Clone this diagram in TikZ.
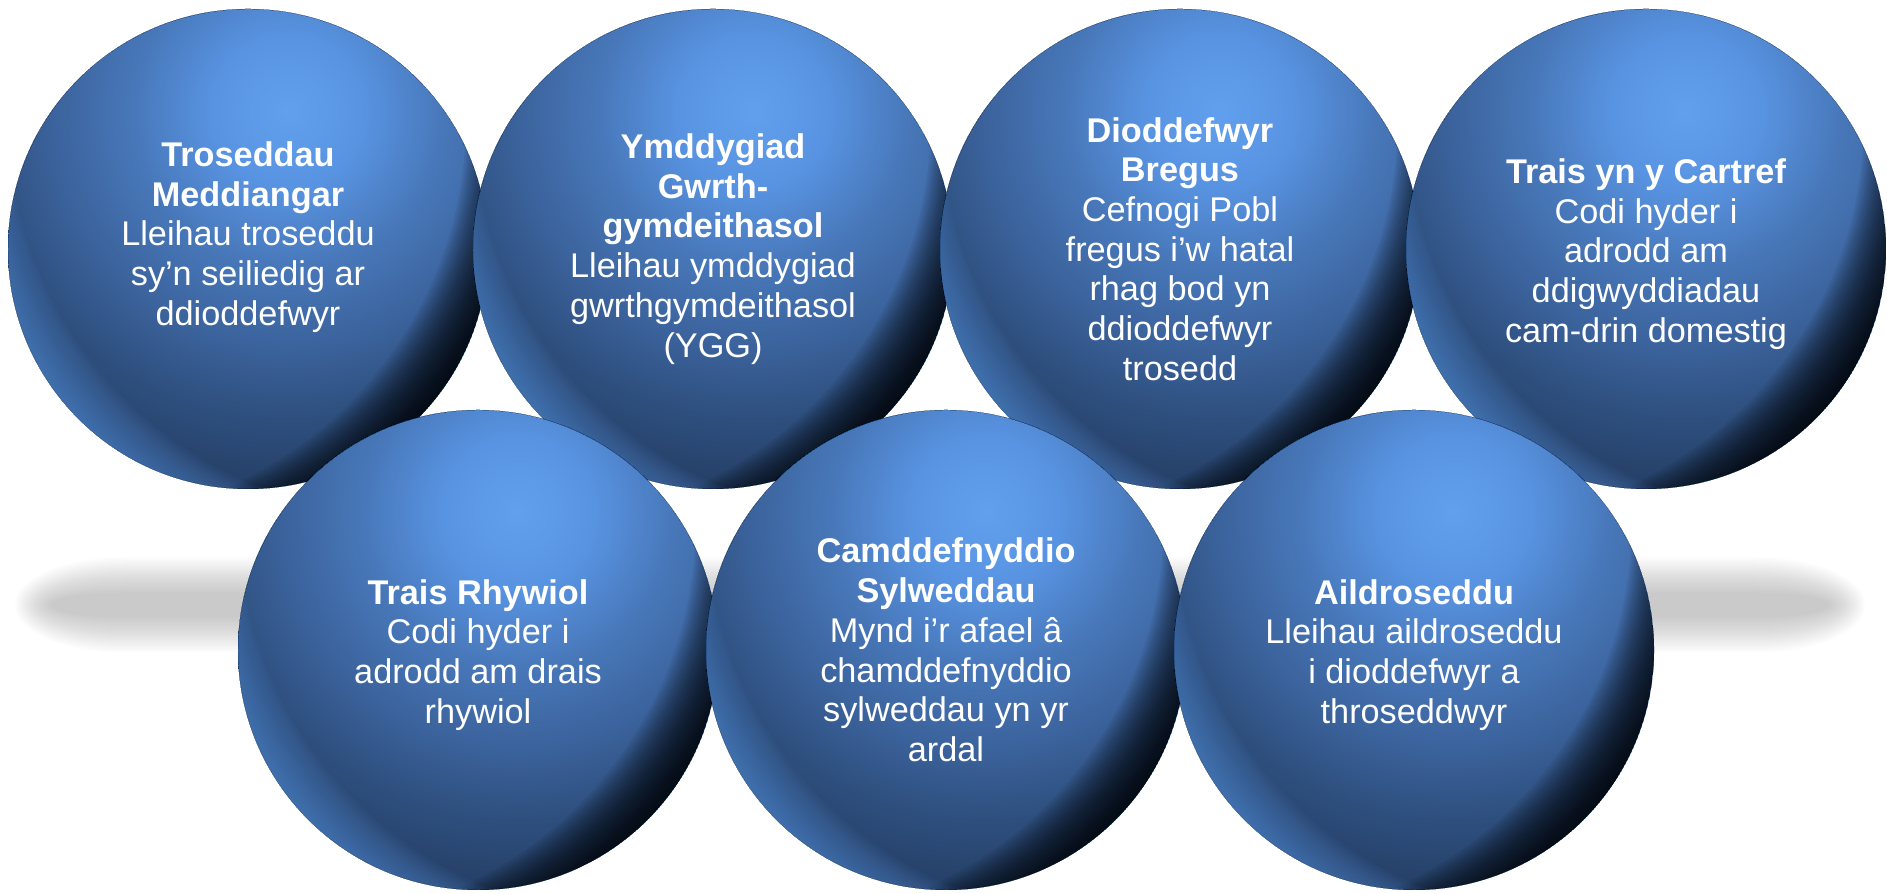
\documentclass[tikz,border=0pt]{standalone}
\usepackage{fontspec}
\setmainfont{Liberation Sans}

\definecolor{sph0}{RGB}{97,160,238}
\definecolor{sph1}{RGB}{88,147,225}
\definecolor{sph2}{RGB}{72,120,186}
\definecolor{sph3}{RGB}{60,100,158}
\definecolor{sph4}{RGB}{46,79,126}
\definecolor{sph5}{RGB}{36,62,100}
\definecolor{sph6}{RGB}{30,52,86}
\definecolor{rimlight}{RGB}{95,155,232}

\pgfdeclareradialshading{bluesphere}{\pgfpointorigin}{%
  color(0bp)=(sph0); color(4bp)=(sph1); color(8bp)=(sph2); color(12bp)=(sph3);
  color(16bp)=(sph4); color(20bp)=(sph5); color(25bp)=(sph6); color(50bp)=(sph6)}

\tikzset{
  balltext/.style={text=white, align=center, inner sep=0pt,
    font=\fontsize{19.5}{22.6}\selectfont},
}

\begin{document}
\begin{tikzpicture}
\useasboundingbox (0,0) rectangle (37.74,17.88);

% Sombra
\foreach \d in {0,0.05,...,0.75}
	\fill[black, opacity=0.014] (2.5,6.73-\d) -- (35.1,6.73-\d)
		arc[start angle=90, end angle=-90, x radius=2.2-\d, y radius=0.95-\d] -- (2.5,4.83+\d)
		arc[start angle=270, end angle=90, x radius=2.2-\d, y radius=0.95-\d] -- cycle;

% Esferas
\coordinate (meddiangar) at (4.96,12.9);
\coordinate (gwrth) at (14.26,12.9);
\coordinate (bregus) at (23.6,12.9);
\coordinate (cartref) at (32.92,12.9);
\coordinate (rhywiol) at (9.56,4.88);
\coordinate (sylweddau) at (18.92,4.88);
\coordinate (aildroseddu) at (28.28,4.88);

\foreach \c in {meddiangar, gwrth, bregus, cartref, rhywiol, sylweddau, aildroseddu} {
	\begin{scope}[shift={(\c)}]
		\clip (0,0) circle (4.8);
		\shade[shading=bluesphere] (0.8,2.75) circle (9.6);
		% borde oscuro
		\begin{scope}[rotate=-35]
			\foreach \t in {0.05,0.1,...,1.3}
				\fill[black, opacity=0.06, even odd rule] (0,0) circle (4.8) (-3.2-\t,0) circle (8);
		\end{scope}
		% borde claro
		\begin{scope}[rotate=-140]
			\foreach \t in {0.05,0.1,...,1.0}
				\fill[rimlight, opacity=0.045, even odd rule] (0,0) circle (4.8) (-3.2-\t,0) circle (8);
		\end{scope}
	\end{scope}
}

% Textos
\node[balltext] (meddiangar-txt) at ([yshift=2.4mm]meddiangar) {\textbf{Troseddau}\\\textbf{Meddiangar}\\Lleihau troseddu\\sy’n seiliedig ar\\ddioddefwyr};
\node[balltext] (gwrth-txt) at (gwrth) {\textbf{Ymddygiad}\\\textbf{Gwrth-}\\\textbf{gymdeithasol}\\Lleihau ymddygiad\\gwrthgymdeithasol\\(YGG)};
\node[balltext] (bregus-txt) at (bregus) {\textbf{Dioddefwyr}\\\textbf{Bregus}\\Cefnogi Pobl\\fregus i’w hatal\\rhag bod yn\\ddioddefwyr\\trosedd};
\node[balltext] (cartref-txt) at ([yshift=-1mm]cartref) {\textbf{Trais yn y Cartref}\\Codi hyder i\\adrodd am\\ddigwyddiadau\\cam-drin domestig};
\node[balltext] (rhywiol-txt) at ([yshift=-1mm]rhywiol) {\textbf{Trais Rhywiol}\\Codi hyder i\\adrodd am drais\\rhywiol};
\node[balltext] (sylweddau-txt) at (sylweddau) {\textbf{Camddefnyddio}\\\textbf{Sylweddau}\\Mynd i’r afael â\\chamddefnyddio\\sylweddau yn yr\\ardal};
\node[balltext] (aildroseddu-txt) at ([yshift=-1mm]aildroseddu) {\textbf{Aildroseddu}\\Lleihau aildroseddu\\i dioddefwyr a\\throseddwyr};
\end{tikzpicture}
\end{document}
